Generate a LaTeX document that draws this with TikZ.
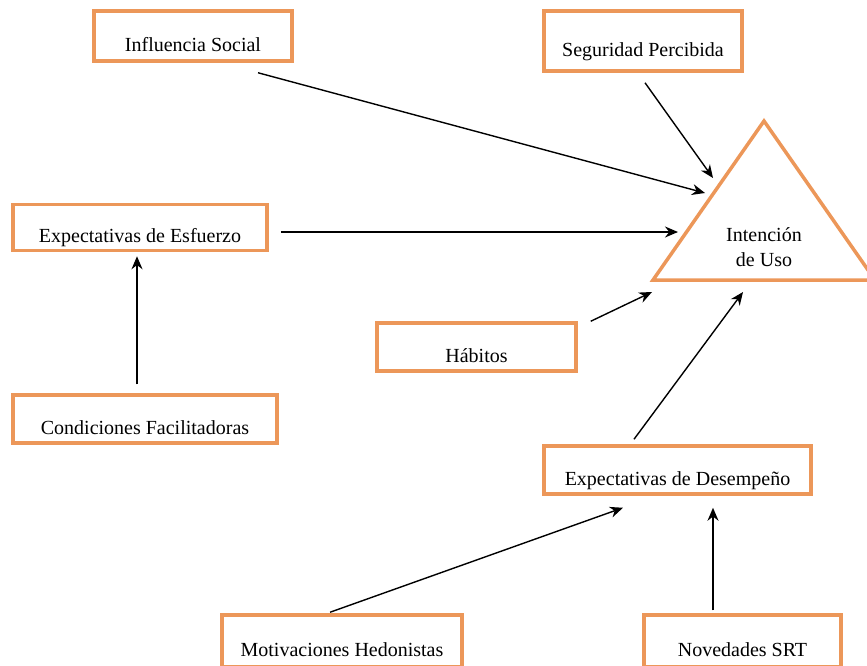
\documentclass[tikz,border=0pt]{standalone}
\usepackage{fontspec}
\setmainfont{Liberation Serif}
\usetikzlibrary{positioning,calc,arrows.meta}
\tikzset{>=stealth}
\definecolor{boxorange}{RGB}{236,151,89}
\tikzset{
  factor/.style={draw=boxorange,line width=3.5pt,rectangle,inner sep=0pt,fill=white,
    text height=30pt,text depth=0pt,font=\fontsize{20}{25}\selectfont},
  rel/.style={-{Stealth[length=13pt,width=11pt]},line width=1.4pt}
}

\begin{document}
\begin{tikzpicture}[x=1pt,y=-1pt]
\useasboundingbox (0,0) rectangle (867,665);
% factors
\node[factor,minimum width=198pt,minimum height=50pt] (social) at (193,36) {Influencia Social};
\node[factor,minimum width=198pt,minimum height=60pt] (seguridad) at (643,41) {Seguridad Percibida};
\node[factor,minimum width=254pt,minimum height=46pt] (esfuerzo) at (140,227.5) {Expectativas de Esfuerzo};
\node[factor,minimum width=264pt,minimum height=48pt] (condiciones) at (145,419) {Condiciones Facilitadoras};
\node[factor,minimum width=199pt,minimum height=48pt] (habitos) at (476.5,347) {Hábitos};
\node[factor,minimum width=267pt,minimum height=48pt] (desempeno) at (677.5,470) {Expectativas de Desempeño};
\node[factor,minimum width=240pt,minimum height=52pt] (hedonistas) at (342,641) {Motivaciones Hedonistas};
\node[factor,minimum width=197pt,minimum height=52pt] (novedades) at (742.5,641) {Novedades SRT};
% triangle
\draw[boxorange,line width=3.5pt,line join=miter] (764,121) coordinate (apex) -- (653,280) -- (875,280) -- cycle;
\node[align=center,font=\fontsize{20}{25}\selectfont] (intencion) at (764,247) {Intención\\de Uso};
\coordinate (t-social) at (705,193);
\coordinate (t-seguridad) at (713,178);
\coordinate (t-esfuerzo) at (678,232);
\coordinate (t-habitos) at (652,292);
\coordinate (t-desempeno) at (743,292);
% arrows
\draw[rel] ([xshift=65pt,yshift=-10pt]social.south) -- (t-social);
\draw[rel] ([xshift=2pt,yshift=-10pt]seguridad.south) -- (t-seguridad);
\draw[rel] ([xshift=12pt,yshift=-4.5pt]esfuerzo.east) -- (t-esfuerzo);
\draw[rel] ([xshift=13pt]habitos.north east) -- (t-habitos);
\draw[rel] ([xshift=-43.5pt,yshift=5pt]desempeno.north) -- (t-desempeno);
\draw[rel] ([xshift=-8pt,yshift=9pt]condiciones.north) -- ([xshift=-3pt,yshift=-4pt]esfuerzo.south);
\draw[rel] ([xshift=-12pt,yshift=1pt]hedonistas.north) -- ([xshift=-54.5pt,yshift=-12pt]desempeno.south);
\draw[rel] ([xshift=-29.5pt,yshift=3pt]novedades.north) -- ([xshift=35.5pt,yshift=-12pt]desempeno.south);
\end{tikzpicture}
\end{document}
